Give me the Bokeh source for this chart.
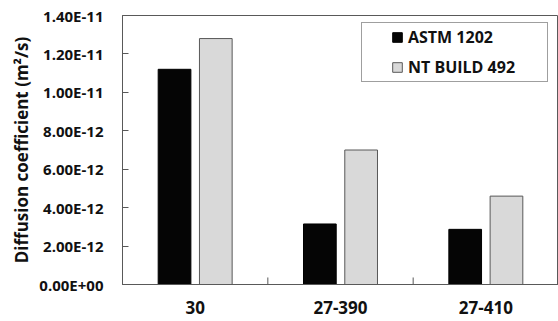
from bokeh.plotting import figure
from bokeh.models import (FactorRange, Range1d, FixedTicker, CustomJSTickFormatter,
                          Legend, LegendItem, ColumnDataSource)
from bokeh.transform import dodge
from bokeh.embed import file_html
from bokeh.resources import INLINE

categories = ["30", "27-390", "27-410"]
series_names = ["ASTM 1202", "NT BUILD 492"]
astm_1202 = [1.12e-11, 3.15e-12, 2.87e-12]
nt_build_492 = [1.28e-11, 7.0e-12, 4.6e-12]
y_ticks = [0, 2e-12, 4e-12, 6e-12, 8e-12, 1.0e-11, 1.2e-11, 1.4e-11]
y_max = 1.4e-11

FONT = "Open Sans"
AXIS_GREY = "#595959"

source = ColumnDataSource(dict(cat=categories, astm=astm_1202, nt=nt_build_492))

p = figure(x_range=FactorRange(factors=categories, range_padding=0, factor_padding=0),
           y_range=Range1d(0, y_max),
           width=558, height=321, output_backend="svg", toolbar_location=None,
           min_border_left=122, min_border_top=15, min_border_bottom=37, min_border_right=0)

bw = 0.225
off = 0.142
r1 = p.vbar(x=dodge("cat", -off, range=p.x_range), top="astm", width=bw, source=source,
            fill_color="#050505", line_color="#000000", line_width=1)
r2 = p.vbar(x=dodge("cat", off, range=p.x_range), top="nt", width=bw, source=source,
            fill_color="#d9d9d9", line_color=AXIS_GREY, line_width=1)

# category separator ticks on the x axis
seps = list(range(1, len(categories)))
tick_len = y_max * 7 / 268.0
p.segment(x0=seps, y0=[0] * len(seps), x1=seps, y1=[tick_len] * len(seps),
          line_color=AXIS_GREY, line_width=1)

p.grid.visible = False
p.outline_line_color = AXIS_GREY
p.outline_line_width = 1
p.background_fill_color = "white"
p.border_fill_color = "white"

# y axis
ya = p.left[0]
ya.ticker = FixedTicker(ticks=y_ticks)
ya.formatter = CustomJSTickFormatter(code="""
let s = tick.toExponential(2).toUpperCase();
const m = s.match(/^(.*E)([+-])(\\d+)$/);
if (m) { s = m[1] + m[2] + (m[3].length < 2 ? '0' + m[3] : m[3]); }
return s;
""")
ya.major_tick_in = 6
ya.major_tick_out = 0
ya.minor_tick_line_color = None
ya.axis_line_color = AXIS_GREY
ya.major_tick_line_color = AXIS_GREY
ya.major_label_text_font = FONT
ya.major_label_text_font_style = "bold"
ya.major_label_text_font_size = "15px"
ya.major_label_text_color = "#111111"
ya.major_label_standoff = 19
ya.axis_label = "Diffusion coefficient (m²/s)"
ya.axis_label_text_font = FONT
ya.axis_label_text_font_style = "bold"
ya.axis_label_text_font_size = "17px"
ya.axis_label_text_color = "#111111"
ya.axis_label_standoff = 3

# x axis (bottom)
xa = p.below[0]
xa.major_tick_line_color = None
xa.major_tick_in = 0
xa.major_tick_out = 0
xa.axis_line_color = AXIS_GREY
xa.major_label_text_font = FONT
xa.major_label_text_font_style = "bold"
xa.major_label_text_font_size = "17px"
xa.major_label_text_color = "#111111"
xa.major_label_standoff = 16

legend = Legend(items=[LegendItem(label=series_names[0], renderers=[r1]),
                       LegendItem(label=series_names[1], renderers=[r2])],
                location=(239, 202),
                title=" ", title_location="left", title_text_font_size="1px",
                title_standoff=25,
                padding=3, spacing=8, margin=0,
                glyph_width=12, glyph_height=12, label_standoff=5,
                label_width=136, label_height=20,
                label_text_font=FONT, label_text_font_style="bold",
                label_text_font_size="16px", label_text_color="#111111",
                border_line_color="#404040", border_line_width=1,
                background_fill_color="white", background_fill_alpha=1)
p.add_layout(legend)

open("out.html", "w").write(file_html(p, INLINE))
